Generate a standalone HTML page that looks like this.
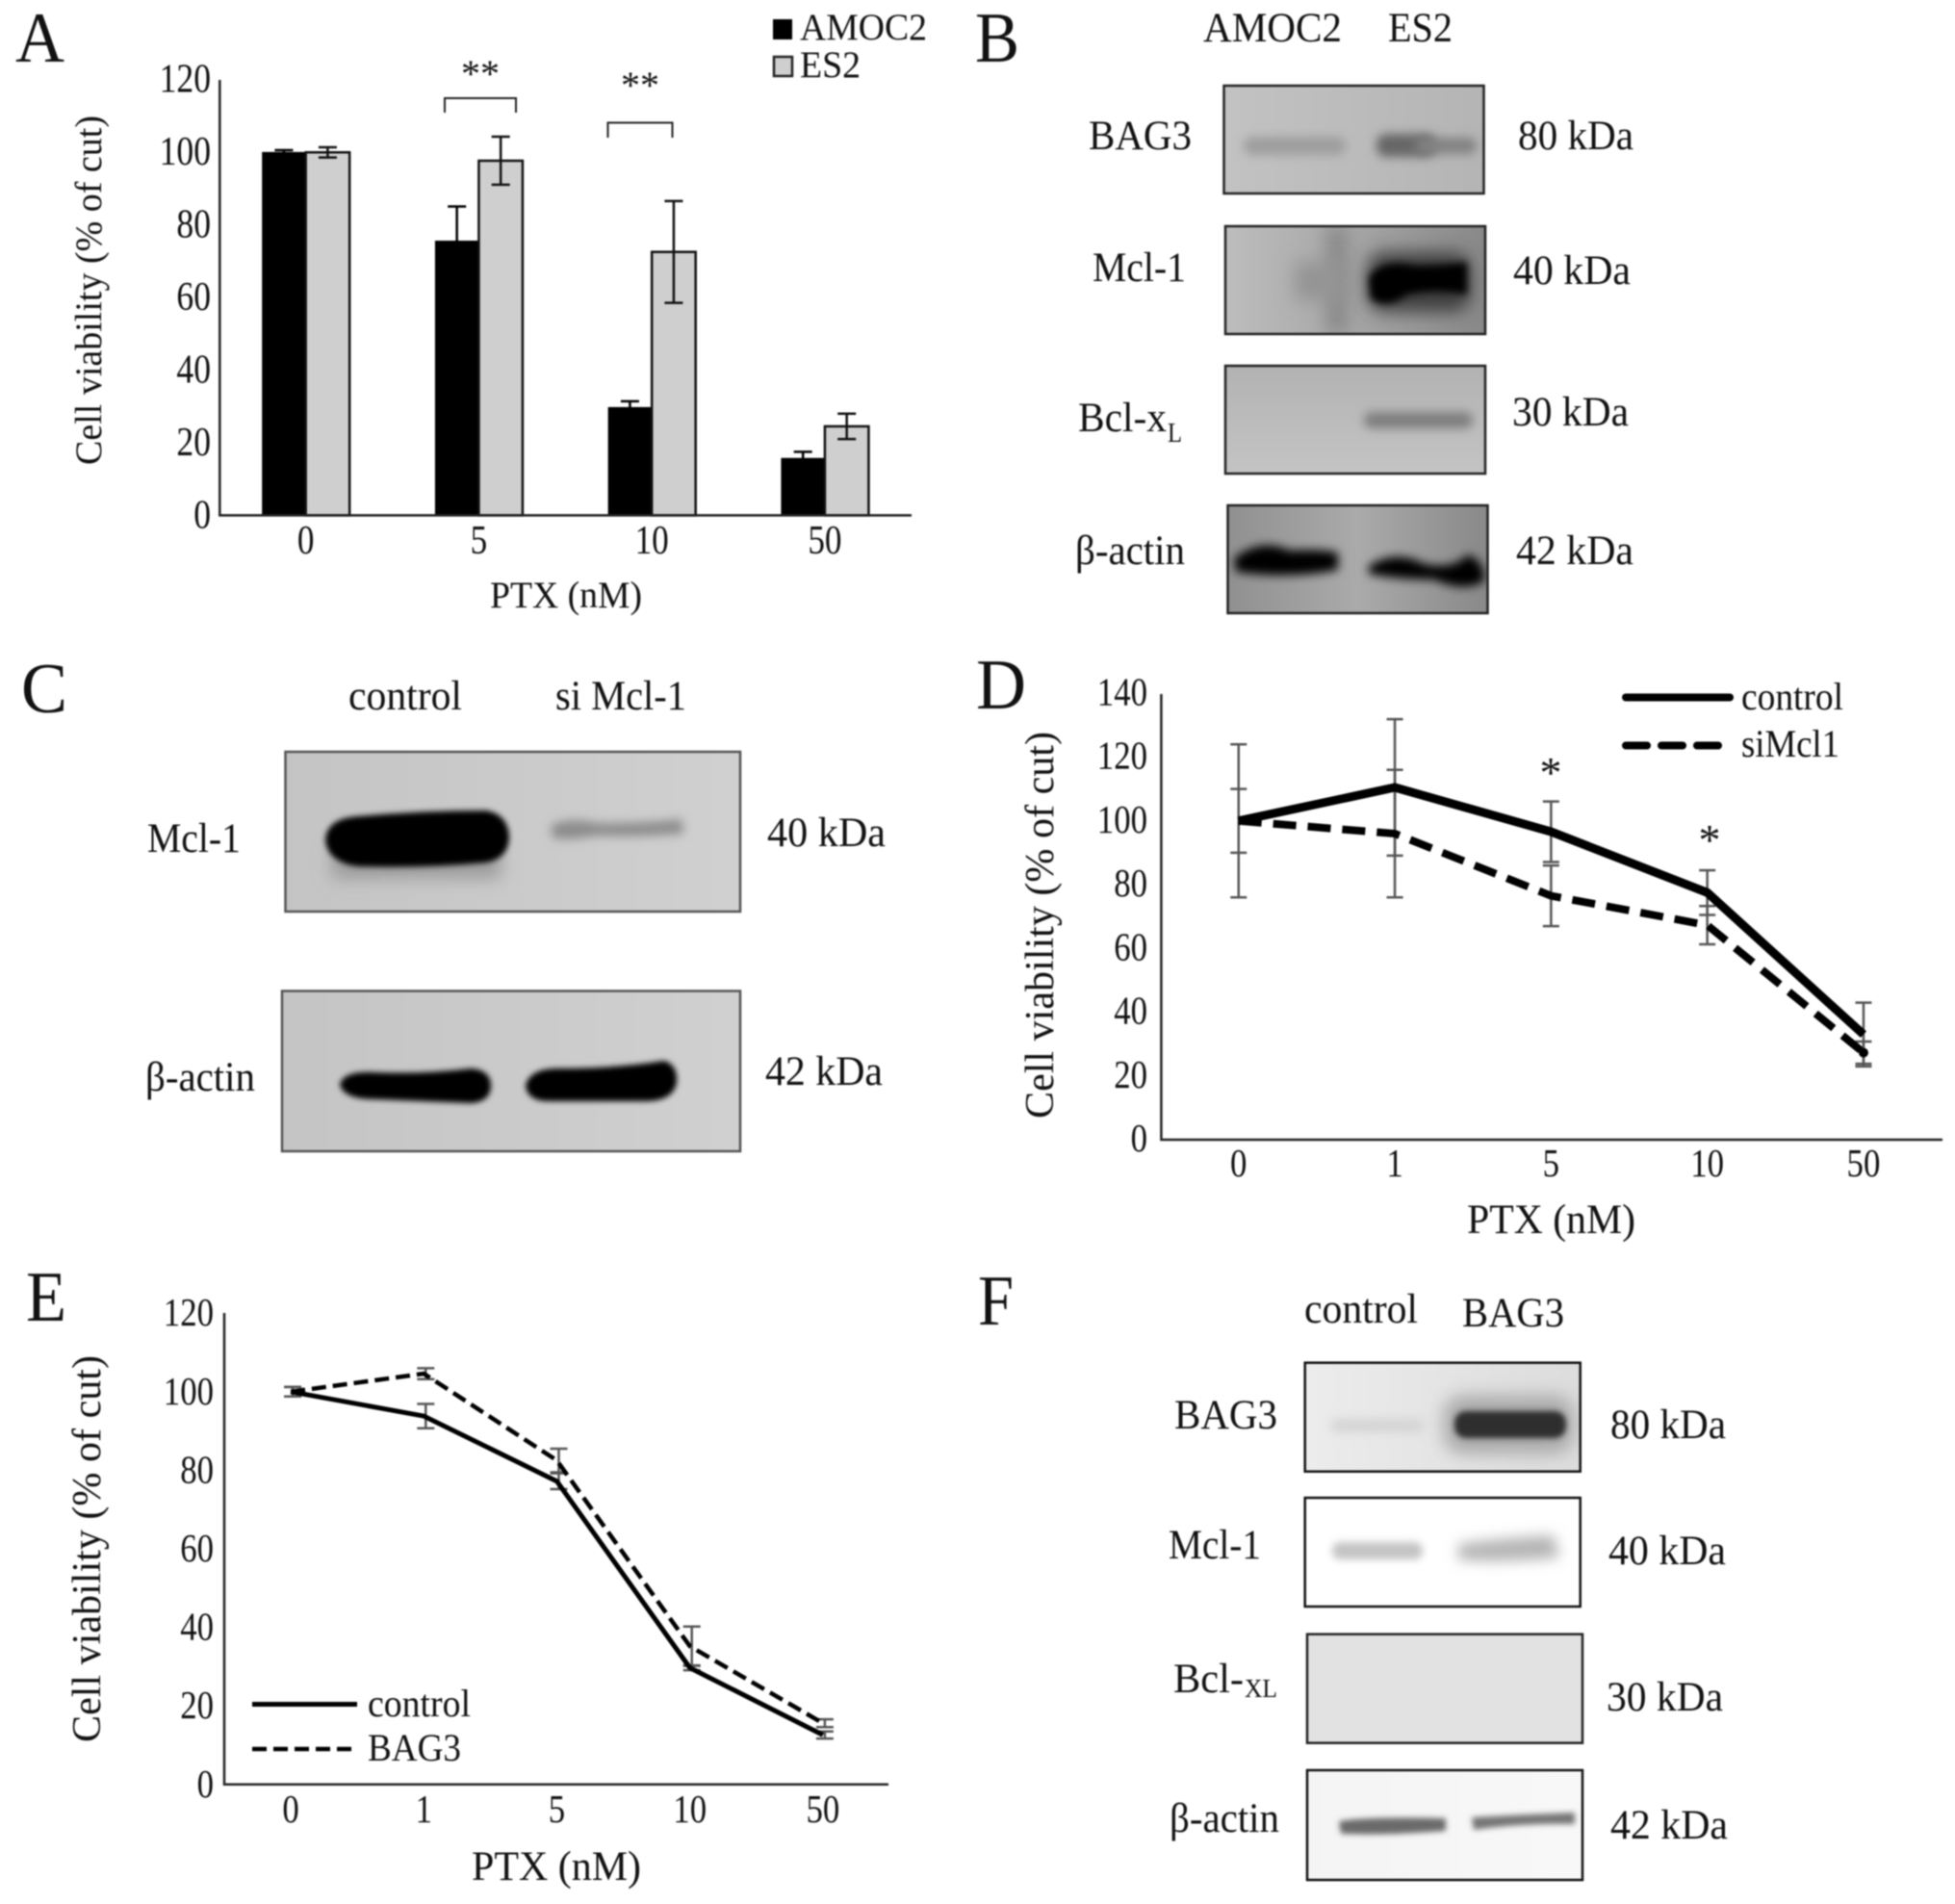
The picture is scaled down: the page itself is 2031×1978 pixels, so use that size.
<!DOCTYPE html>
<html lang="en">
<head>
<meta charset="utf-8">
<title>Multi-panel figure: cell viability and western blots</title>
<style>
html,body{margin:0;padding:0;background:#fff;}
#figure{display:block;filter:blur(0.7px);}
#figure text{font-family:"Liberation Serif","DejaVu Serif",serif;fill:#111;}
</style>
</head>
<body>
<svg id="figure" xmlns="http://www.w3.org/2000/svg" width="2031" height="1978" viewBox="0 0 2031 1978">
<defs>
<filter id="b2" x="-50%" y="-150%" width="200%" height="400%"><feGaussianBlur stdDeviation="2"/></filter>
<filter id="b3" x="-50%" y="-150%" width="200%" height="400%"><feGaussianBlur stdDeviation="3"/></filter>
<filter id="b4" x="-50%" y="-150%" width="200%" height="400%"><feGaussianBlur stdDeviation="4"/></filter>
<filter id="b5" x="-50%" y="-150%" width="200%" height="400%"><feGaussianBlur stdDeviation="5"/></filter>
<filter id="b7" x="-50%" y="-200%" width="200%" height="500%"><feGaussianBlur stdDeviation="7"/></filter>
<filter id="b9" x="-80%" y="-150%" width="260%" height="400%"><feGaussianBlur stdDeviation="9"/></filter>
<filter id="bw" x="-400%" y="-20%" width="900%" height="140%"><feGaussianBlur stdDeviation="9"/></filter>
<linearGradient id="gB1" x1="0" y1="0" x2="1" y2="0"><stop offset="0" stop-color="#c2c2c2"/><stop offset="1" stop-color="#b4b4b4"/></linearGradient>
<linearGradient id="gB2" x1="0" y1="0" x2="1" y2="0"><stop offset="0" stop-color="#bdbdbd"/><stop offset=".45" stop-color="#a8a8a8"/><stop offset="1" stop-color="#888"/></linearGradient>
<linearGradient id="gB3" x1="0" y1="0" x2="0" y2="1"><stop offset="0" stop-color="#b2b2b2"/><stop offset="1" stop-color="#c4c4c4"/></linearGradient>
<linearGradient id="gB4" x1="0" y1="0" x2="1" y2="0"><stop offset="0" stop-color="#909090"/><stop offset=".5" stop-color="#aaa"/><stop offset="1" stop-color="#888"/></linearGradient>
<linearGradient id="gC" x1="0" y1="0" x2="1" y2="0"><stop offset="0" stop-color="#c4c4c4"/><stop offset="1" stop-color="#d0d0d0"/></linearGradient>
<linearGradient id="gF1" x1="0" y1="0" x2="1" y2="0"><stop offset="0" stop-color="#ececec"/><stop offset="1" stop-color="#dcdcdc"/></linearGradient>
<linearGradient id="gF4" x1="0" y1="0" x2="1" y2="0"><stop offset="0" stop-color="#f4f4f4"/><stop offset="1" stop-color="#f8f8f8"/></linearGradient>
</defs>

<!-- Panel letters -->
<text x="16" y="64" font-size="74" textLength="51" lengthAdjust="spacingAndGlyphs">A</text>
<text x="1013" y="64" font-size="74" textLength="46" lengthAdjust="spacingAndGlyphs">B</text>
<text x="22" y="740" font-size="74" textLength="48" lengthAdjust="spacingAndGlyphs">C</text>
<text x="1014" y="736" font-size="74" textLength="52" lengthAdjust="spacingAndGlyphs">D</text>
<text x="27" y="1372" font-size="74" textLength="42" lengthAdjust="spacingAndGlyphs">E</text>
<text x="1016" y="1376" font-size="74" textLength="37" lengthAdjust="spacingAndGlyphs">F</text>

<!-- Panel B blots -->
<g>
  <svg x="1271.5" y="89" width="270" height="112" viewBox="1271.5 89 270 112">
    <rect x="1271" y="88" width="272" height="114" fill="url(#gB1)"/>
    <rect x="1292" y="142" width="106" height="19" rx="9" fill="#9e9e9e" filter="url(#b5)"/>
    <rect x="1430" y="139" width="62" height="24" rx="10" fill="#666" filter="url(#b5)"/>
    <rect x="1470" y="143" width="64" height="17" rx="8" fill="#828282" filter="url(#b5)"/>
  </svg>
  <rect x="1271.5" y="89" width="270" height="112" fill="none" stroke="#222" stroke-width="2.5"/>
  <svg x="1273" y="235" width="270" height="112" viewBox="1273 235 270 112">
    <rect x="1272" y="234" width="272" height="114" fill="url(#gB2)"/>
    <rect x="1378" y="235" width="22" height="112" fill="#888" filter="url(#bw)"/>
    <rect x="1345" y="272" width="50" height="40" fill="#949494" filter="url(#b9)"/>
    <rect x="1420" y="262" width="108" height="62" rx="18" fill="#3c3c3c" filter="url(#b9)"/>
    <path d="M1422 288 Q1436 268 1470 276 Q1500 276 1524 272 L1524 306 Q1490 300 1462 306 Q1440 322 1424 310 Z" fill="#000" filter="url(#b4)"/>
  </svg>
  <rect x="1273" y="235" width="270" height="112" fill="none" stroke="#222" stroke-width="2.5"/>
  <svg x="1273" y="380" width="270" height="112" viewBox="1273 380 270 112">
    <rect x="1272" y="379" width="272" height="114" fill="url(#gB3)"/>
    <rect x="1417" y="428" width="113" height="17" rx="8" fill="#7e7e7e" filter="url(#b5)"/>
  </svg>
  <rect x="1273" y="380" width="270" height="112" fill="none" stroke="#222" stroke-width="2.5"/>
  <svg x="1275.5" y="525" width="270" height="112" viewBox="1275.5 525 270 112">
    <rect x="1275" y="524" width="272" height="114" fill="url(#gB4)"/>
    <path d="M1282 580 Q1310 558 1340 572 Q1370 570 1390 574 L1390 592 Q1340 602 1284 594 Z" fill="#000" filter="url(#b5)"/>
    <path d="M1422 588 Q1450 570 1480 586 Q1510 592 1525 576 Q1544 584 1542 604 Q1520 616 1490 602 Q1450 602 1422 596 Z" fill="#000" filter="url(#b5)"/>
  </svg>
  <rect x="1275.5" y="525" width="270" height="112" fill="none" stroke="#222" stroke-width="2.5"/>
</g>
<text x="1250" y="43" font-size="43" textLength="144" lengthAdjust="spacingAndGlyphs">AMOC2</text>
<text x="1442" y="43" font-size="43" textLength="67" lengthAdjust="spacingAndGlyphs">ES2</text>
<text x="1131" y="155" font-size="43" textLength="107" lengthAdjust="spacingAndGlyphs">BAG3</text>
<text x="1135" y="292" font-size="43" textLength="97" lengthAdjust="spacingAndGlyphs">Mcl-1</text>
<text x="1120" y="448" font-size="43" textLength="92" lengthAdjust="spacingAndGlyphs">Bcl-x</text>
<text x="1213" y="459" font-size="28" textLength="15" lengthAdjust="spacingAndGlyphs">L</text>
<text x="1117" y="586" font-size="43" textLength="114" lengthAdjust="spacingAndGlyphs">β-actin</text>
<text x="1577" y="155" font-size="43" textLength="120" lengthAdjust="spacingAndGlyphs">80 kDa</text>
<text x="1572" y="295" font-size="43" textLength="122" lengthAdjust="spacingAndGlyphs">40 kDa</text>
<text x="1571" y="442" font-size="43" textLength="121" lengthAdjust="spacingAndGlyphs">30 kDa</text>
<text x="1575" y="586" font-size="43" textLength="122" lengthAdjust="spacingAndGlyphs">42 kDa</text>

<!-- Panel C blots -->
<g>
  <svg x="296.5" y="781" width="472.5" height="166" viewBox="296.5 781 472.5 166">
    <rect x="296" y="780" width="474" height="168" fill="url(#gC)"/>
    <rect x="345" y="878" width="175" height="34" fill="#999" filter="url(#b9)"/>
    <path d="M338 872 Q340 850 372 848 Q440 842 505 842 Q528 846 529 870 Q528 892 505 896 Q440 902 372 900 Q340 896 338 872 Z" fill="#000" filter="url(#b3)"/>
    <path d="M572 858 Q590 848 620 855 Q660 856 708 851 L710 866 Q660 870 620 868 Q590 874 574 870 Z" fill="#8c8c8c" filter="url(#b5)"/>
  </svg>
  <rect x="296.5" y="781" width="472.5" height="166" fill="none" stroke="#555" stroke-width="2.5"/>
  <svg x="293" y="1029.5" width="476" height="166.5" viewBox="293 1029.5 476 166.5">
    <rect x="292" y="1029" width="478" height="168" fill="url(#gC)"/>
    <path d="M353 1126 Q358 1112 390 1114 Q440 1116 490 1110 Q510 1112 510 1128 Q510 1144 490 1146 Q440 1144 390 1142 Q356 1142 353 1126 Z" fill="#000" filter="url(#b3)"/>
    <path d="M546 1128 Q550 1110 580 1110 Q640 1110 690 1102 Q704 1106 703 1124 Q700 1144 670 1144 Q620 1144 570 1144 Q548 1144 546 1128 Z" fill="#000" filter="url(#b3)"/>
  </svg>
  <rect x="293" y="1029.5" width="476" height="166.5" fill="none" stroke="#555" stroke-width="2.5"/>
</g>
<text x="362" y="737" font-size="43" textLength="118" lengthAdjust="spacingAndGlyphs">control</text>
<text x="577" y="737" font-size="43" textLength="136" lengthAdjust="spacingAndGlyphs">si Mcl-1</text>
<text x="153" y="885" font-size="43" textLength="97" lengthAdjust="spacingAndGlyphs">Mcl-1</text>
<text x="151" y="1133" font-size="43" textLength="114" lengthAdjust="spacingAndGlyphs">β-actin</text>
<text x="797" y="879" font-size="43" textLength="123" lengthAdjust="spacingAndGlyphs">40 kDa</text>
<text x="795" y="1127" font-size="43" textLength="122" lengthAdjust="spacingAndGlyphs">42 kDa</text>

<!-- Panel F blots -->
<g>
  <svg x="1355.7" y="1415.7" width="286" height="113" viewBox="1355.7 1415.7 286 113">
    <rect x="1355" y="1415" width="288" height="115" fill="url(#gF1)"/>
    <rect x="1383" y="1474" width="96" height="14" rx="6" fill="#d4d4d4" filter="url(#b5)"/>
    <rect x="1500" y="1450" width="135" height="60" rx="20" fill="#a8a8a8" filter="url(#b9)"/>
    <rect x="1511" y="1466" width="116" height="28" rx="12" fill="#2e2e2e" filter="url(#b3)"/>
  </svg>
  <rect x="1355.7" y="1415.7" width="286" height="113" fill="none" stroke="#111" stroke-width="2.5"/>
  <svg x="1355.7" y="1556" width="286" height="113" viewBox="1355.7 1556 286 113">
    <rect x="1355" y="1555" width="288" height="115" fill="#fff"/>
    <rect x="1384" y="1602" width="94" height="18" rx="8" fill="#c4c4c4" filter="url(#b4)"/>
    <path d="M1515 1604 Q1560 1598 1614 1595 L1620 1618 Q1560 1624 1515 1620 Z" fill="#b4b4b4" filter="url(#b7)"/>
  </svg>
  <rect x="1355.7" y="1556" width="286" height="113" fill="none" stroke="#111" stroke-width="2.5"/>
  <rect x="1358" y="1697.7" width="286" height="113" fill="#e2e2e2" stroke="#222" stroke-width="2.5"/>
  <svg x="1358" y="1839" width="286" height="114" viewBox="1358 1839 286 114">
    <rect x="1357" y="1838" width="288" height="116" fill="url(#gF4)"/>
    <path d="M1391 1892 Q1420 1887 1502 1889 L1502 1902 Q1440 1907 1393 1905 Z" fill="#6a6a6a" filter="url(#b3)"/>
    <path d="M1529 1888 Q1580 1885 1636 1883 L1636 1895 Q1580 1894 1531 1901 Z" fill="#747474" filter="url(#b3)"/>
  </svg>
  <rect x="1358" y="1839" width="286" height="114" fill="none" stroke="#111" stroke-width="2.5"/>
</g>
<text x="1355" y="1374" font-size="43" textLength="118" lengthAdjust="spacingAndGlyphs">control</text>
<text x="1519" y="1378" font-size="43" textLength="106" lengthAdjust="spacingAndGlyphs">BAG3</text>
<text x="1220" y="1484" font-size="43" textLength="107" lengthAdjust="spacingAndGlyphs">BAG3</text>
<text x="1214" y="1619" font-size="43" textLength="96" lengthAdjust="spacingAndGlyphs">Mcl-1</text>
<text x="1219" y="1758" font-size="43" textLength="73" lengthAdjust="spacingAndGlyphs">Bcl-</text>
<text x="1293" y="1763" font-size="27" textLength="34" lengthAdjust="spacingAndGlyphs">XL</text>
<text x="1215" y="1903" font-size="43" textLength="114" lengthAdjust="spacingAndGlyphs">β-actin</text>
<text x="1673" y="1494" font-size="43" textLength="120" lengthAdjust="spacingAndGlyphs">80 kDa</text>
<text x="1671" y="1625" font-size="43" textLength="122" lengthAdjust="spacingAndGlyphs">40 kDa</text>
<text x="1669" y="1777" font-size="43" textLength="121" lengthAdjust="spacingAndGlyphs">30 kDa</text>
<text x="1673" y="1910" font-size="43" textLength="122" lengthAdjust="spacingAndGlyphs">42 kDa</text>

<!-- Panel A static -->
<g id="chart-a"></g>
<text x="105" y="301.5" font-size="39" text-anchor="middle" transform="rotate(-90 105 301.5)" textLength="363" lengthAdjust="spacingAndGlyphs">Cell viability (% of cut)</text>
<text x="509" y="631" font-size="39" textLength="158" lengthAdjust="spacingAndGlyphs">PTX (nM)</text>
<rect x="803" y="20" width="20" height="21" fill="#000"/>
<rect x="804" y="59" width="19" height="20" fill="#cfcfcf" stroke="#222" stroke-width="2.5"/>
<text x="831" y="41" font-size="39" textLength="132" lengthAdjust="spacingAndGlyphs">AMOC2</text>
<text x="831" y="80" font-size="39" textLength="63" lengthAdjust="spacingAndGlyphs">ES2</text>
<text x="499" y="90" font-size="40" text-anchor="middle">**</text>
<text x="665" y="102" font-size="40" text-anchor="middle">**</text>
<path d="M462 117V102H536V117" fill="none" stroke="#222" stroke-width="2"/>
<path d="M631.5 143V127.5H698.5V143" fill="none" stroke="#222" stroke-width="2"/>

<!-- Panel D static -->
<g id="chart-d"></g>
<text x="1094" y="961" font-size="42" text-anchor="middle" transform="rotate(-90 1094 961)" textLength="402" lengthAdjust="spacingAndGlyphs">Cell viability (% of cut)</text>
<text x="1524" y="1281" font-size="43" textLength="175" lengthAdjust="spacingAndGlyphs">PTX (nM)</text>
<line x1="1689" y1="724.5" x2="1797" y2="724.5" stroke="#000" stroke-width="8" stroke-linecap="round"/>
<line x1="1689" y1="774.5" x2="1797" y2="774.5" stroke="#000" stroke-width="8" stroke-dasharray="22 15" stroke-linecap="round"/>
<text x="1809" y="737" font-size="40" textLength="106" lengthAdjust="spacingAndGlyphs">control</text>
<text x="1809" y="786" font-size="40" textLength="102" lengthAdjust="spacingAndGlyphs">siMcl1</text>
<text x="1611" y="818" font-size="46" text-anchor="middle">*</text>
<text x="1776" y="888" font-size="46" text-anchor="middle">*</text>

<!-- Panel E static -->
<g id="chart-e"></g>
<text x="104" y="1609" font-size="42" text-anchor="middle" transform="rotate(-90 104 1609)" textLength="402" lengthAdjust="spacingAndGlyphs">Cell viability (% of cut)</text>
<text x="490" y="1953" font-size="43" textLength="176" lengthAdjust="spacingAndGlyphs">PTX (nM)</text>
<line x1="262" y1="1770.5" x2="371" y2="1770.5" stroke="#000" stroke-width="5"/>
<line x1="262" y1="1817" x2="371" y2="1817" stroke="#000" stroke-width="4.5" stroke-dasharray="15 7"/>
<text x="382" y="1783" font-size="40" textLength="107" lengthAdjust="spacingAndGlyphs">control</text>
<text x="382" y="1829" font-size="40" textLength="97" lengthAdjust="spacingAndGlyphs">BAG3</text>
</svg>

<script>
// Panel A data
const aCategories = ['0', '5', '10', '50'];
const aTicks = [0, 20, 40, 60, 80, 100, 120];
const aAmoc2 = [100, 75.6, 29.8, 15.8];
const aEs2 = [99.9, 97.6, 72.5, 24.5];
const aAmoc2Err = [0.5, 9.4, 1.6, 1.7];
const aEs2Err = [1.4, 6.6, 14, 3.5];

// Panel D data
const dCategories = ['0', '1', '5', '10', '50'];
const dTicks = [0, 20, 40, 60, 80, 100, 120, 140];
const dControl = [100, 110.5, 96.6, 77.5, 33];
const dSiMcl1 = [100, 96, 76.5, 67.3, 27.3];
const dControlErr = [24, 21.4, 9.5, 7, 10];
const dSiMcl1Err = [10, 20, 9.5, 6, 3.5];

// Panel E data
const eCategories = ['0', '1', '5', '10', '50'];
const eTicks = [0, 20, 40, 60, 80, 100, 120];
const eControl = [100, 93.8, 77.2, 29.7, 12.6];
const eBag3 = [100, 104.6, 82.5, 35.2, 15.6];
const eControlErr = [1.2, 3.1, 2, 0.6, 0.9];
const eBag3Err = [1.2, 1.4, 3, 5, 1];

const NS = 'http://www.w3.org/2000/svg';
function mk(tag, attrs, parent) {
  const el = document.createElementNS(NS, tag);
  for (const k in attrs) el.setAttribute(k, attrs[k]);
  parent.appendChild(el);
  return el;
}
function tickLabel(parent, str, x, y, size, anchor, digit) {
  const el = mk('text', {x: x, y: y, 'font-size': size, 'text-anchor': anchor, textLength: str.length * digit, lengthAdjust: 'spacingAndGlyphs'}, parent);
  el.textContent = str;
  return el;
}
function errorBar(parent, x, yHi, yLo, cap, color) {
  const el = mk('path', {d: 'M' + (x - cap / 2) + ' ' + yHi + 'H' + (x + cap / 2) + 'M' + x + ' ' + yHi + 'V' + yLo + 'M' + (x - cap / 2) + ' ' + yLo + 'H' + (x + cap / 2), fill: 'none', stroke: color, 'stroke-width': 2.5}, parent);
  return el;
}
function axes(parent, x0, yTop, yBottom, xRight, width) {
  const el = mk('path', {d: 'M' + x0 + ' ' + yTop + 'V' + yBottom + 'H' + xRight, fill: 'none', stroke: '#222', 'stroke-width': width}, parent);
  return el;
}
function polyPath(values, xf, yf) {
  return values.map(function (v, i) { return (i ? 'L' : 'M') + xf(i) + ' ' + yf(v); }).join('');
}

// ---------- Panel A ----------
const gA = document.getElementById('chart-a');
const aX = function (i) { return 227.8 + (i + 0.5) * 179.75; };
const aY = function (v) { return 535.4 - v * 3.775; };
const aBarW = 45.5;
aCategories.forEach(function (c, i) {
  const black = mk('rect', {x: aX(i) - aBarW, y: aY(aAmoc2[i]), width: aBarW, height: aY(0) - aY(aAmoc2[i]), fill: '#000'}, gA);
  
  
  const gray = mk('rect', {x: aX(i), y: aY(aEs2[i]), width: aBarW, height: aY(0) - aY(aEs2[i]), fill: '#cfcfcf', stroke: '#111', 'stroke-width': 2.5}, gA);
  
  
  const e1 = errorBar(gA, aX(i) - aBarW / 2, aY(aAmoc2[i] + aAmoc2Err[i]), aY(aAmoc2[i] - aAmoc2Err[i]), 19, '#000');
  
  
  const e2 = errorBar(gA, aX(i) + aBarW / 2, aY(aEs2[i] + aEs2Err[i]), aY(aEs2[i] - aEs2Err[i]), 19, '#111');
  
  
  const t = tickLabel(gA, c, aX(i), 575, 42, 'middle', 17.6);
  
  
});
aTicks.forEach(function (v) {
  const t = tickLabel(gA, String(v), 219, aY(v) + 13, 42, 'end', 17.8);
  
  
});
const aAxes = axes(gA, 228.3, 83, 535.4, 947, 2.5);



// ---------- Panel D ----------
const gD = document.getElementById('chart-d');
const dX = function (i) { return 1205.6 + (i + 0.5) * 162.3; };
const dY = function (v) { return 1184 - v * 3.312; };
dCategories.forEach(function (c, i) {
  const e1 = errorBar(gD, dX(i), dY(dControl[i] + dControlErr[i]), dY(dControl[i] - dControlErr[i]), 17, '#555');
  
  
  const e2 = errorBar(gD, dX(i), dY(dSiMcl1[i] + dSiMcl1Err[i]), dY(dSiMcl1[i] - dSiMcl1Err[i]), 17, '#555');
  
  
  const t = tickLabel(gD, c, dX(i), 1222, 41, 'middle', 17.4);
  
  
});
dTicks.forEach(function (v) {
  const t = tickLabel(gD, String(v), 1192, dY(v) + 12, 41, 'end', 17.4);
  
  
});
const dSiLine = mk('path', {d: polyPath(dSiMcl1, dX, dY), fill: 'none', stroke: '#000', 'stroke-width': 8, 'stroke-dasharray': '24 12'}, gD);


const dCtlLine = mk('path', {d: polyPath(dControl, dX, dY), fill: 'none', stroke: '#000', 'stroke-width': 9}, gD);


const dDot = mk('circle', {cx: dX(4), cy: dY(dSiMcl1[4]), r: 5, fill: '#000'}, gD);


const dAxes = axes(gD, 1206.4, 721, 1184, 2018, 2.5);



// ---------- Panel E ----------
const gE = document.getElementById('chart-e');
const eX = function (i) { return 233 + (i + 0.5) * 138.2; };
const eY = function (v) { return 1853.8 - v * 4.08; };
eCategories.forEach(function (c, i) {
  const e1 = errorBar(gE, eX(i) + 2, eY(eControl[i] + eControlErr[i]), eY(eControl[i] - eControlErr[i]), 18, '#555');
  
  
  const e2 = errorBar(gE, eX(i) + 2, eY(eBag3[i] + eBag3Err[i]), eY(eBag3[i] - eBag3Err[i]), 18, '#555');
  
  
  const t = tickLabel(gE, c, eX(i), 1893, 41, 'middle', 17.4);
  
  
});
eTicks.forEach(function (v) {
  const t = tickLabel(gE, String(v), 222, eY(v) + 13, 41, 'end', 17.4);
  
  
});
const eBagLine = mk('path', {d: polyPath(eBag3, eX, eY), fill: 'none', stroke: '#000', 'stroke-width': 4.5, 'stroke-dasharray': '15 7'}, gE);


const eCtlLine = mk('path', {d: polyPath(eControl, eX, eY), fill: 'none', stroke: '#000', 'stroke-width': 5}, gE);


const eAxes = axes(gE, 233, 1364, 1853.8, 923, 2.5);


</script>
</body>
</html>
